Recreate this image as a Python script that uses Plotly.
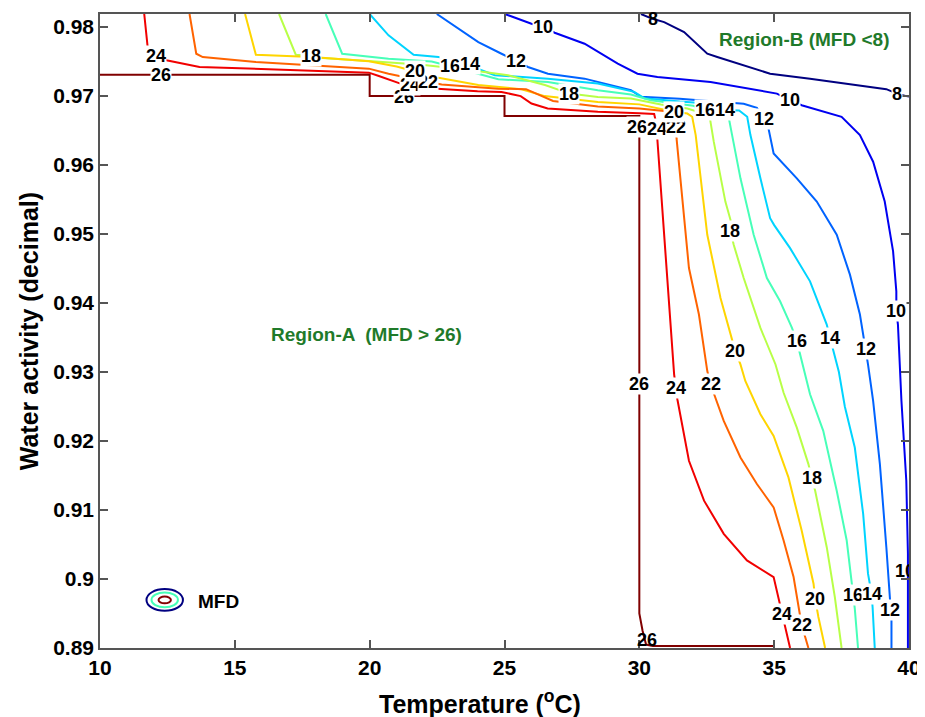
import plotly.graph_objects as go

# ---------------- data ----------------
LEVELS = [8, 10, 12, 14, 16, 18, 20, 22, 24, 26]

T_8 = [30.06, 30.49, 30.92, 31.66, 32.52, 32.89, 34.85, 36.33, 39.16, 39.55, 39.9, 40.0]
AW_8 = [0.9819, 0.9812, 0.98072, 0.97928, 0.97614, 0.97566, 0.97325, 0.97253, 0.9710, 0.97036, 0.9700, 0.96995]

T_10 = [25.01, 26.0, 26.43, 26.86, 27.97, 29.2, 29.93, 30.67, 32.64, 35.1, 35.59, 36.02, 37.5,
        38.18, 38.67, 39.1, 39.41, 39.53, 39.53, 39.59, 39.72, 39.9, 39.96, 39.96]
AW_10 = [0.9819, 0.98048, 0.9800, 0.97918, 0.97759, 0.9747, 0.97325, 0.97277, 0.97205, 0.97036, 0.96941,
         0.96868, 0.9670, 0.96435, 0.96049, 0.95471, 0.94749, 0.9417, 0.93882, 0.93689, 0.92581,
         0.91425, 0.90365, 0.8900]

T_12 = [22.49, 23.2, 24.03, 24.89, 25.44, 25.87, 26.61, 27.97, 29.69, 30.06, 31.5, 33.0, 33.87, 34.36,
        34.61, 34.79, 34.98, 35.84, 36.58, 37.32, 37.81, 38.18, 38.3, 38.4, 38.48, 38.67, 38.92,
        39.16, 39.28, 39.3, 39.35, 39.35]
AW_12 = [0.9819, 0.9800, 0.97783, 0.97614, 0.97504, 0.97422, 0.97325, 0.97253, 0.97085, 0.9699, 0.9696,
         0.9692, 0.9689, 0.9683, 0.96675, 0.9653, 0.96169, 0.95808, 0.95471, 0.9499, 0.94412, 0.93834,
         0.93545, 0.93328, 0.93111, 0.92581, 0.91666, 0.90461, 0.89788, 0.89556, 0.89401, 0.8900]

T_14 = [20.0, 20.7, 21.63, 22.55, 23.2, 23.72, 24.15, 24.64, 26.61, 28.46, 29.81, 30.18, 31.5, 32.64,
        33.18, 33.7, 34.0, 34.12, 34.49, 34.85, 35.0, 35.59, 36.33, 36.95, 37.07, 37.19, 37.4, 37.62,
        37.99, 38.3, 38.48, 38.61, 38.65, 38.73]
AW_14 = [0.9819, 0.9788, 0.9760, 0.97566, 0.9752, 0.9747, 0.97374, 0.97302, 0.97253, 0.97181, 0.97061,
         0.9697, 0.9692, 0.9689, 0.9680, 0.9679, 0.9670, 0.96435, 0.95808, 0.9523, 0.9513, 0.94796,
         0.94315, 0.93689, 0.93496, 0.93303, 0.9300, 0.9250, 0.91906, 0.90943, 0.90077, 0.89788,
         0.89594, 0.8900]

T_16 = [18.37, 18.98, 20.7, 22.3, 22.98, 24.27, 24.77, 26.61, 28.46, 29.69, 30.42, 32.0, 32.45, 32.9,
        33.31, 33.44, 33.75, 34.24, 34.73, 35.22, 35.66, 35.84, 35.96, 36.33, 36.82, 37.32, 37.69,
        37.87, 37.93, 37.99, 38.11]
AW_16 = [0.9819, 0.97614, 0.97542, 0.9750, 0.97432, 0.97302, 0.97244, 0.97205, 0.97085, 0.97022,
         0.9694, 0.9686, 0.9680, 0.9678, 0.9670, 0.96435, 0.95808, 0.9499, 0.94363, 0.94026, 0.9364,
         0.93448, 0.93256, 0.92678, 0.92147, 0.9128, 0.90558, 0.89986, 0.89765, 0.8957, 0.8900]

T_18 = [16.64, 17.26, 17.81, 18.25, 20.09, 21.93, 23.78, 25.13, 26.5, 27.41, 28.46, 29.69, 30.8,
        31.78, 32.6, 32.76, 33.19, 33.38, 33.38, 33.5, 33.87, 34.49, 35.05, 35.35, 35.84, 36.27,
        36.39, 36.52, 36.95, 37.25, 37.5]
AW_18 = [0.9819, 0.9760, 0.97581, 0.97552, 0.97504, 0.97455, 0.97374, 0.97302, 0.9716, 0.97036,
         0.96988, 0.96964, 0.96877, 0.9682, 0.9672, 0.9634, 0.95471, 0.95207, 0.95038, 0.94845,
         0.94363, 0.9364, 0.9311, 0.9270, 0.92195, 0.91666, 0.91464, 0.9128, 0.90461, 0.89738, 0.8900]

T_20 = [15.38, 15.78, 17.86, 19.97, 21.0, 21.69, 22.5, 24.03, 25.63, 26.49, 28.46, 30.0, 31.0, 31.29,
        31.78, 31.96, 32.09, 32.52, 33.01, 33.44, 33.56, 33.75, 33.93, 34.49, 34.98, 35.53, 36.02,
        36.46, 36.52, 36.64, 36.89]
AW_20 = [0.9819, 0.9760, 0.97566, 0.97504, 0.9743, 0.9736, 0.9727, 0.9716, 0.9710, 0.9700, 0.96916,
         0.9688, 0.9680, 0.96772, 0.96747, 0.9670, 0.96435, 0.9499, 0.94074, 0.93448, 0.9330,
         0.93111, 0.9287, 0.92389, 0.92075, 0.91473, 0.90702, 0.89932, 0.89715, 0.8945, 0.8900]

T_22 = [13.32, 13.57, 13.81, 15.78, 19.97, 20.7, 21.5, 22.15, 22.67, 24.77, 25.8, 26.8, 28.46, 30.0,
        31.0, 31.38, 31.35, 31.38, 31.84, 32.21, 32.52, 32.64, 32.79, 33.13, 33.75, 34.36, 34.98,
        35.35, 35.72, 35.96, 36.02, 36.15, 36.27]
AW_22 = [0.9819, 0.97614, 0.97566, 0.97494, 0.97398, 0.97325, 0.9726, 0.9721, 0.97167, 0.97108,
         0.9710, 0.9693, 0.9685, 0.9682, 0.9678, 0.9673, 0.96555, 0.96386, 0.94507, 0.93834,
         0.93014, 0.92822, 0.92653, 0.92292, 0.91762, 0.91377, 0.91039, 0.90558, 0.90028,
         0.89499, 0.8933, 0.8916, 0.8900]

T_24 = [11.64, 11.78, 12.07, 12.46, 13.69, 18.12, 19.97, 20.34, 21.14, 21.5, 22.06, 24.0, 24.89, 25.6,
        26.0, 26.6, 28.46, 30.0, 30.55, 30.67, 30.67, 31.29, 31.35, 31.41, 31.84, 32.4, 33.13, 33.99,
        34.98, 35.2, 35.29, 35.41, 35.59]
AW_24 = [0.9819, 0.97663, 0.97577, 0.97519, 0.97422, 0.9736, 0.9734, 0.97292, 0.97181, 0.97157,
         0.97118, 0.9707, 0.9706, 0.9700, 0.96892, 0.9682, 0.96772, 0.9675, 0.96740, 0.9653, 0.96363,
         0.92967, 0.92773, 0.92606, 0.91714, 0.91136, 0.90655, 0.90269, 0.90028, 0.89666, 0.8950,
         0.8933, 0.8900]

T_26 = [10.0, 20.0, 20.0, 25.0, 25.0, 30.0, 30.0, 30.12, 30.25, 30.5, 35.0]
AW_26 = [0.9731, 0.9731, 0.9700, 0.9700, 0.9671, 0.9671, 0.8950, 0.8925, 0.8905, 0.8903, 0.8903]

LABEL_LEVEL = [26, 26, 26, 26, 26,
               24, 24, 24, 24, 24,
               22, 22, 22, 22,
               20, 20, 20, 20,
               18, 18, 18, 18,
               16, 16, 16, 16,
               14, 14, 14, 14,
               12, 12, 12, 12,
               10, 10, 10, 10,
               8, 8]
LABEL_T = [12.28, 21.26, 29.93, 30.0, 30.28,
           12.07, 21.5, 30.67, 31.35, 35.29,
           22.15, 31.35, 32.64, 36.02,
           21.69, 31.29, 33.56, 36.52,
           17.81, 27.41, 33.38, 36.39,
           22.98, 32.45, 35.84, 37.93,
           23.72, 33.18, 37.07, 38.61,
           25.44, 34.61, 38.4, 39.28,
           26.43, 35.59, 39.53, 39.85,
           30.49, 39.55]
LABEL_AW = [0.9730, 0.96988, 0.96555, 0.92822, 0.89113,
            0.97577, 0.97157, 0.9653, 0.92773, 0.8950,
            0.97205, 0.96555, 0.92822, 0.8933,
            0.9736, 0.96772, 0.9330, 0.89715,
            0.97581, 0.97036, 0.95038, 0.91464,
            0.97432, 0.96796, 0.93448, 0.89765,
            0.9747, 0.96796, 0.93496, 0.89788,
            0.97504, 0.96675, 0.93328, 0.89556,
            0.9800, 0.96941, 0.93882, 0.9010,
            0.9812, 0.97036]

X_TICKS = [10, 15, 20, 25, 30, 35, 40]
Y_TICKS = [0.89, 0.90, 0.91, 0.92, 0.93, 0.94, 0.95, 0.96, 0.97, 0.98]
Y_TICK_TEXT = ["0.89", "0.9", "0.91", "0.92", "0.93", "0.94", "0.95", "0.96", "0.97", "0.98"]

# legend glyph (MFD) : centre and radii of the three rings, outer -> inner
MFD_CENTER = (12.4, 0.89697)
MFD_RX = [0.676, 0.49, 0.23]
MFD_RY = [0.00157, 0.00108, 0.00048]
MFD_RING_LEVEL = [8, 16, 26]

SERIES = {8: (T_8, AW_8), 10: (T_10, AW_10), 12: (T_12, AW_12), 14: (T_14, AW_14),
          16: (T_16, AW_16), 18: (T_18, AW_18), 20: (T_20, AW_20), 22: (T_22, AW_22),
          24: (T_24, AW_24), 26: (T_26, AW_26)}

# ---------------- styling ----------------
FONT = "Arial, 'Liberation Sans', Helvetica, sans-serif"
LO, HI = min(LEVELS), max(LEVELS)


def jet(v):
    t = (v - LO) / (HI - LO)

    def c(x):
        return max(0.0, min(1.0, x))
    r = c(1.5 - abs(4 * t - 3))
    g = c(1.5 - abs(4 * t - 2))
    b = c(1.5 - abs(4 * t - 1))
    return "rgb(%d,%d,%d)" % (round(r * 255), round(g * 255), round(b * 255))


fig = go.Figure()

for lev in LEVELS:
    t, aw = SERIES[lev]
    fig.add_trace(go.Scatter(x=t, y=aw, mode="lines",
                             line=dict(color=jet(lev), width=2),
                             hoverinfo="skip", showlegend=False))

LABEL_FONT = dict(family=FONT, size=18, color="black", weight="bold")

annotations = []
edge_t, edge_aw, edge_txt = [], [], []
for lev, t, a in zip(LABEL_LEVEL, LABEL_T, LABEL_AW):
    if t > 39.7:
        edge_t.append(t)
        edge_aw.append(a)
        edge_txt.append(str(lev))
        continue
    near_edge = a > 0.981 or a < 0.892
    annotations.append(dict(x=t, y=a, xref="x", yref="y", text=str(lev), showarrow=False,
                            font=LABEL_FONT,
                            bgcolor="rgba(255,255,255,0)" if near_edge else "white",
                            borderpad=0))

if edge_t:
    fig.add_trace(go.Scatter(x=edge_t, y=edge_aw, mode="text", text=edge_txt,
                             textfont=LABEL_FONT,
                             cliponaxis=True, hoverinfo="skip", showlegend=False))

GREEN = "#1f7a2a"
annotations += [
    dict(x=19.9, y=0.93543, xref="x", yref="y", text="Region-A  (MFD > 26)", showarrow=False,
         font=dict(family=FONT, size=19, color=GREEN, weight="bold")),
    dict(x=36.12, y=0.97827, xref="x", yref="y", text="Region-B (MFD <8)", showarrow=False,
         font=dict(family=FONT, size=19, color=GREEN, weight="bold")),
    dict(x=14.41, y=0.89676, xref="x", yref="y", text="MFD", showarrow=False,
         font=dict(family=FONT, size=19, color="black", weight="bold")),
    # axis titles
    dict(x=0.47, y=-0.085, xref="paper", yref="paper", text="Temperature (<sup>o</sup>C)",
         showarrow=False, xanchor="center", yanchor="middle",
         font=dict(family=FONT, size=25, color="black", weight="bold")),
    dict(x=-0.0875, y=0.5, xref="paper", yref="paper", text="Water activity (decimal)",
         showarrow=False, xanchor="center", yanchor="middle", textangle=-90,
         font=dict(family=FONT, size=25, color="black", weight="bold")),
]

shapes = []
cx, cy = MFD_CENTER
for rx, ry, lev in zip(MFD_RX, MFD_RY, MFD_RING_LEVEL):
    shapes.append(dict(type="circle", xref="x", yref="y",
                       x0=cx - rx, x1=cx + rx, y0=cy - ry, y1=cy + ry,
                       line=dict(color=jet(lev), width=2)))

axis_common = dict(showline=True, linecolor="#555555", linewidth=1.5, mirror="ticks",
                   ticks="inside", ticklen=8, tickwidth=1.5, tickcolor="#555555",
                   showgrid=False, zeroline=False,
                   tickfont=dict(family=FONT, size=21, color="black", weight="bold"))

# the page puts the figure 8 px in from the top-left corner of the window,
# so the figure is sized to end exactly at the window's right and bottom edges
fig.update_layout(
    width=917, height=709,
    margin=dict(l=92, r=12, t=4, b=69),
    paper_bgcolor="white", plot_bgcolor="white",
    xaxis=dict(range=[10, 40], tickvals=X_TICKS, **axis_common),
    yaxis=dict(range=[0.89, 0.9819], tickvals=Y_TICKS, ticktext=Y_TICK_TEXT, **axis_common),
    annotations=annotations,
    shapes=shapes,
)

fig.write_html("out.html")
